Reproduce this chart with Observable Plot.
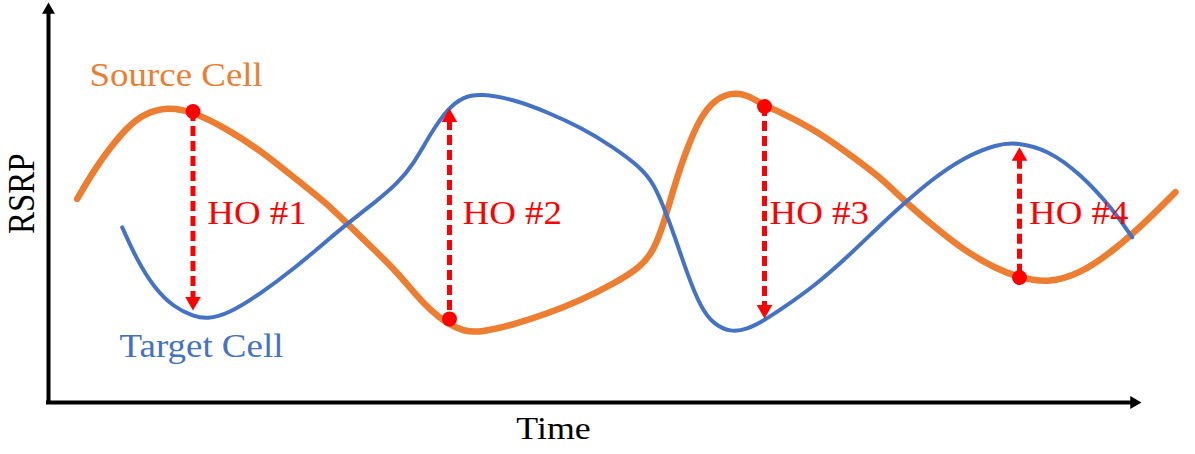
<!DOCTYPE html>
<html>
<head>
<meta charset="utf-8">
<script src="https://cdn.jsdelivr.net/npm/d3@7"></script>
<script src="https://cdn.jsdelivr.net/npm/@observablehq/plot@0.6"></script>
<style>
  html, body { margin: 0; padding: 0; background: #ffffff; }
</style>
</head>
<body>
<div id="chart"></div>
<script>
// ---- Data (arbitrary units: time 0–1093, RSRP 0–100) ----
const sourceTime = [28.7, 45.3, 62, 78.7, 95.3, 118.7, 143.7, 178.7, 212, 245.3, 278.7, 298.7, 328.7, 348.7, 365.3, 382, 398.7, 415.3, 432, 465.3, 498.7, 532, 565.3, 592, 605.3, 615.3, 625.3, 638.7, 652, 665.3, 682, 698.7, 715.3, 732, 765.3, 798.7, 832, 855.3, 882, 915.3, 948.7, 970.3, 998.7, 1032, 1065.3, 1098.7, 1127];
const sourceRSRP = [50.9, 58, 63.8, 68.8, 72.2, 73.9, 72.8, 68.4, 63, 56.3, 49.7, 44.7, 37.5, 32.5, 27.5, 23, 19.7, 17.8, 17.5, 19.5, 22.2, 25.5, 29.7, 33.8, 38, 44.7, 53.8, 63.8, 71.3, 75.5, 77.5, 77, 74.3, 72.6, 68.3, 62.5, 56.3, 50.5, 44.7, 38, 33.3, 31.3, 29.8, 32.2, 38, 45.5, 52.6];

const targetTime = [73.7, 88.7, 105.3, 125.3, 145.3, 158.7, 178.7, 212, 245.3, 278.7, 298.7, 328.7, 348.7, 365.3, 382, 398.7, 415.3, 432, 465.3, 498.7, 532, 565.3, 592, 605.3, 615.3, 625.3, 638.7, 652, 665.3, 682, 698.7, 715.3, 732, 765.3, 798.7, 832, 855.3, 882, 915.3, 948.7, 968.7, 998.7, 1032, 1065.3, 1083.7];
const targetRSRP = [43.8, 35.5, 28.8, 23.8, 21.5, 20.9, 22, 27.2, 33.4, 40.5, 44.7, 50.5, 54.7, 59.7, 67.2, 73.4, 76.5, 77.2, 75.8, 72.6, 68.8, 63.8, 58.8, 54.7, 48.8, 42.2, 32.2, 23.8, 19.5, 17.6, 18.3, 20.5, 23.2, 29, 36.3, 44.4, 49.7, 55.5, 61.3, 64.6, 65, 63.2, 57.2, 48, 41.3];

const hoNames = ["HO #1", "HO #2", "HO #3", "HO #4"];
const hoTime = [144.5, 401, 716, 971];
const hoSourceRSRP = [72.75, 20.9, 74, 31.25];   // trigger point on source curve
const hoTipRSRP = [23, 73.5, 21, 63.8];          // arrow tip near target curve
const hoLabelTime = [158.7, 414, 721, 980.5];
const hoLabelRSRP = [44.75, 44.75, 44.75, 44.75];

const seriesNames = ["Source Cell", "Target Cell"];
const seriesLabelTime = [41, 71];
const seriesLabelRSRP = [79.25, 11.5];

const xTitle = "Time";
const yTitle = "RSRP";

// ---- Build tables ----
const source = sourceTime.map((t, i) => ({t, v: sourceRSRP[i]}));
const target = targetTime.map((t, i) => ({t, v: targetRSRP[i]}));
const ho = hoNames.map((name, i) => ({
  name, t: hoTime[i], from: hoSourceRSRP[i], to: hoTipRSRP[i],
  top: Math.max(hoSourceRSRP[i], hoTipRSRP[i]),
  bottom: Math.min(hoSourceRSRP[i], hoTipRSRP[i]),
  down: hoTipRSRP[i] < hoSourceRSRP[i],
  lt: hoLabelTime[i], lv: hoLabelRSRP[i]
}));
const hoDown = ho.filter(d => d.down);
const hoUp = ho.filter(d => !d.down);
const seriesLabels = seriesNames.map((name, i) => ({name, t: seriesLabelTime[i], v: seriesLabelRSRP[i]}));

const ORANGE = "#ED7D31", BLUE = "#4472C4", RED = "#FF0000";
const FONT = "Liberation Serif";

// arrowhead triangles (d3 symbolTriangle: size = r^2*pi)
const headR = 5.8, headOff = 9.0;
const axisR = 4.8, axisOff = 7.5;

const chart = Plot.plot({
  width: 1195,
  height: 454,
  marginLeft: 48,
  marginRight: 54,
  marginTop: 2,
  marginBottom: 52,
  x: {domain: [0, 1093], axis: null},
  y: {domain: [0, 100], axis: null},
  style: {background: "#ffffff", overflow: "visible", fontFamily: FONT},
  marks: [
    // axes
    Plot.ruleX([0], {y1: 100, y2: 0, stroke: "#000", strokeWidth: 4, insetTop: 9, insetBottom: -2}),
    Plot.ruleY([0], {x1: 0, x2: 1093, stroke: "#000", strokeWidth: 4, insetRight: 9, insetLeft: -2}),
    Plot.dot([0], {x: 0, y: 100, symbol: "triangle", r: axisR, fill: "#000", dy: axisOff}),
    Plot.dot([0], {x: 1093, y: 0, symbol: "triangle", r: axisR, fill: "#000", rotate: 90, dx: -axisOff}),
    Plot.text([xTitle], {x: 505, y: -9.08, text: d => d, fontSize: 32, fill: "#000", textAnchor: "middle", lineAnchor: "bottom", fontFamily: FONT}),
    Plot.text([yTitle], {x: -15, y: 52.2, text: d => d, fontSize: 33, fill: "#000", textAnchor: "middle", lineAnchor: "bottom", rotate: -90, fontFamily: FONT}),

    // curves
    Plot.line(source, {x: "t", y: "v", curve: "basis", stroke: ORANGE, strokeWidth: 6.5}),
    Plot.line(target, {x: "t", y: "v", curve: "basis", stroke: BLUE, strokeWidth: 4}),

    // series labels
    Plot.text(seriesLabels, {x: "t", y: "v", text: "name", fill: (d) => d.name === "Source Cell" ? ORANGE : BLUE, fontSize: 33, textAnchor: "start", lineAnchor: "bottom", fontFamily: FONT}),

    // handover arrows
    Plot.ruleX(hoDown, {x: "t", y1: "top", y2: "bottom", stroke: RED, strokeWidth: 5, strokeDasharray: "10,5", insetBottom: 12}),
    Plot.ruleX(hoUp, {x: "t", y1: "top", y2: "bottom", stroke: RED, strokeWidth: 5, strokeDasharray: "10,5", insetTop: 12}),
    Plot.dot(hoDown, {x: "t", y: "to", symbol: "triangle", r: headR, fill: RED, rotate: 180, dy: -headOff}),
    Plot.dot(hoUp, {x: "t", y: "to", symbol: "triangle", r: headR, fill: RED, dy: headOff}),
    Plot.dot(ho, {x: "t", y: "from", r: 7.5, fill: RED}),
    Plot.text(ho, {x: "lt", y: "lv", text: "name", fill: RED, fontSize: 33, textAnchor: "start", lineAnchor: "bottom", fontFamily: FONT})
  ]
});

// The reference glyphs are slightly wider than normal: stretch text horizontally
const S = 1.12;
chart.querySelectorAll("text").forEach(el => {
  const tr = el.getAttribute("transform");
  if (!tr) return;
  el.setAttribute("transform", tr + (tr.includes("rotate") ? ` scale(1,${S})` : ` scale(${S},1)`));
});

document.getElementById("chart").appendChild(chart);
</script>
</body>
</html>
